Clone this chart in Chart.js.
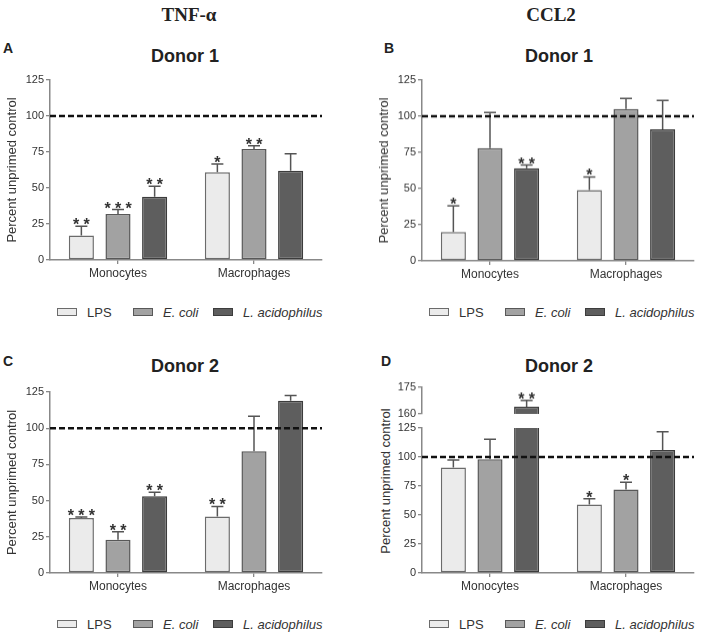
<!DOCTYPE html>
<html>
<head>
<meta charset="utf-8">
<script src="https://cdn.jsdelivr.net/npm/chart.js@4.4.1/dist/chart.umd.min.js"></script>
<style>
  body { margin: 0; background: #fff; font-family: "Liberation Sans", Arial, sans-serif; color: #222; }
  #fig { position: relative; width: 708px; height: 638px; overflow: hidden; }
  .abs { position: absolute; line-height: 1; white-space: nowrap; }
  .head { font: bold 19px "Liberation Serif", "Times New Roman", serif; transform: translateX(-50%); }
  .letter { font-weight: bold; font-size: 14px; }
  .donor { font-weight: bold; font-size: 18px; transform: translateX(-50%); }
  .ytitle { font-size: 13px; color: #333; transform: translate(-50%, -50%) rotate(-90deg); }
  .lg-box { position: absolute; width: 18px; height: 6px; border: 1px solid #555; }
  .lg-txt { font-size: 13px; color: #333; }
</style>
</head>
<body>
<div id="fig">
  <div class="abs head" style="left:189px;top:4px">TNF-α</div>
  <div class="abs head" style="left:551px;top:4px">CCL2</div>
  <div class="abs letter" style="left:3px;top:41px">A</div>
  <div class="abs letter" style="left:384px;top:41px">B</div>
  <div class="abs letter" style="left:3px;top:354px">C</div>
  <div class="abs letter" style="left:381px;top:354px">D</div>
  <div class="abs donor" style="left:185px;top:47px">Donor 1</div>
  <div class="abs donor" style="left:559px;top:47px">Donor 1</div>
  <div class="abs donor" style="left:185px;top:357px">Donor 2</div>
  <div class="abs donor" style="left:559px;top:357px">Donor 2</div>
  <div class="abs ytitle" style="left:385px;top:481px">Percent unprimed control</div>
</div>
<script>
// ---- data ----
const groups = ['Monocytes', 'Macrophages'];
const treatments = ['LPS', 'E. coli', 'L. acidophilus'];
const yTicks = [0, 25, 50, 75, 100, 125];
const yTicksBroken = [160, 175];   // upper segment of panel D
const controlLevel = 100;

// rows = treatments (LPS, E. coli, L. acidophilus), cols = groups
// A: TNF-α, donor 1
const tnfD1Mean = [[17, 61], [32, 77], [44, 62]];
const tnfD1Sd = [[6.4, 5.6], [3, 2.3], [7.3, 11.7]];
const tnfD1Sig = [['**', '*'], ['***', '**'], ['**', '']];
// B: CCL2, donor 1
const ccl2D1Mean = [[20, 49], [78, 105], [64, 91]];
const ccl2D1Sd = [[18, 9], [24.6, 7.3], [2.3, 19.9]];
const ccl2D1Sig = [['*', '*'], ['', ''], ['**', '']];
// C: TNF-α, donor 2
const tnfD2Mean = [[38, 39], [23, 84], [53, 119]];
const tnfD2Sd = [[0.6, 7], [5.5, 24.2], [2.7, 3.5]];
const tnfD2Sig = [['***', '**'], ['**', ''], ['**', '']];
// D: CCL2, donor 2
const ccl2D2Mean = [[91, 59], [98, 72], [164, 106]];
const ccl2D2Sd = [[6.4, 5.1], [17.2, 6.2], [3.7, 15.8]];
const ccl2D2Sig = [['', '*'], ['', '*'], ['**', '']];

// ---- styles ----
const FILL = ['#ebebeb', '#a2a2a2', '#5e5e5e'];
const EDGE = ['#6b6b6b', '#585858', '#3c3c3c'];
const ITALIC = [false, true, true];
const AXIS = '#888';

Chart.defaults.font.family = '"Liberation Sans", Arial, sans-serif';
const fig = document.getElementById('fig');

// error bars (upper SD only), significance stars, dashed 100% line
const extras = {
  id: 'extras',
  afterDatasetsDraw(chart, args, opts) {
    const { ctx, chartArea: a, scales: { y } } = chart;
    ctx.save();
    chart.data.datasets.forEach((ds, i) => {
      chart.getDatasetMeta(i).data.forEach((bar, j) => {
        const v = ds.data[j];
        if (v == null || v + ds.sd[j] > y.max) return;
        const yb = y.getPixelForValue(v), ys = y.getPixelForValue(v + ds.sd[j]);
        ctx.strokeStyle = '#555';
        ctx.lineWidth = 1.5;
        ctx.beginPath();
        ctx.moveTo(bar.x, yb); ctx.lineTo(bar.x, ys);
        ctx.moveTo(bar.x - 6, ys); ctx.lineTo(bar.x + 6, ys);
        ctx.stroke();
        const n = ds.sig[j].length;
        ctx.fillStyle = '#333';
        ctx.font = 'bold 16px "Liberation Sans", Arial, sans-serif';
        ctx.textAlign = 'center';
        ctx.textBaseline = 'alphabetic';
        for (let k = 0; k < n; k++) ctx.fillText('*', bar.x + (k - (n - 1) / 2) * 10.5, ys + 4);
      });
    });
    if (opts.ref > y.min && opts.ref < y.max) {
      const yr = y.getPixelForValue(opts.ref);
      ctx.setLineDash([6, 3]);
      ctx.lineWidth = 2.5;
      ctx.strokeStyle = '#111';
      ctx.beginPath();
      ctx.moveTo(a.left, yr); ctx.lineTo(a.right, yr);
      ctx.stroke();
    }
    ctx.restore();
  }
};

function panelChart({ axisX, right, top, bottom, mean, sd, sig, ticks, xAxis = true, yTitle = true }) {
  const left = axisX - 50, ctop = top - 14;
  const w = right + 6 - left, h = bottom + (xAxis ? 30 : 4) - ctop;
  const cv = document.createElement('canvas');
  cv.width = w; cv.height = h;
  cv.style.cssText = `position:absolute;left:${left}px;top:${ctop}px;width:${w}px;height:${h}px`;
  fig.appendChild(cv);
  const lo = ticks[0], hi = ticks[ticks.length - 1];

  return new Chart(cv, {
    type: 'bar',
    data: {
      labels: groups,
      datasets: treatments.map((name, t) => ({
        label: name,
        data: mean[t].map(v => (v > lo ? v : null)),
        sd: sd[t],
        sig: sig[t],
        backgroundColor: FILL[t],
        borderColor: EDGE[t],
        borderWidth: 1.5,
        borderSkipped: false,
        categoryPercentage: 0.808,
        barPercentage: 0.685,
        clip: 0
      }))
    },
    options: {
      responsive: false,
      animation: false,
      layout: { padding: { left: 0, top: 14, right: 6, bottom: xAxis ? 0 : 4 } },
      plugins: {
        legend: { display: false },
        tooltip: { enabled: false },
        extras: { ref: controlLevel }
      },
      scales: {
        x: {
          display: xAxis,
          grid: { drawOnChartArea: false, offset: false, tickLength: 4, color: AXIS, lineWidth: 1.3 },
          border: { color: AXIS, width: 1.5 },
          ticks: { color: '#333', font: { size: 12 }, padding: 2, maxRotation: 0 },
          afterFit: s => { s.height = xAxis ? 30 : 0; s.paddingLeft = 0; s.paddingRight = 0; }
        },
        y: {
          min: lo,
          max: hi,
          afterBuildTicks: s => { s.ticks = ticks.map(value => ({ value })); },
          grid: { drawOnChartArea: false, tickLength: 4, color: AXIS, lineWidth: 1.3 },
          border: { color: AXIS, width: 1.5 },
          ticks: { color: '#333', font: { size: 11 }, padding: 2, autoSkip: false },
          title: {
            display: yTitle, text: 'Percent unprimed control', color: '#333',
            font: { size: 13 }, padding: { top: 5, bottom: 0 }
          },
          afterFit: s => { s.width = 50; s.paddingTop = 0; s.paddingBottom = 0; }
        }
      }
    },
    plugins: [extras]
  });
}

function legend(axisX, cy) {
  [7, 83, 163].forEach((dx, t) => {
    const box = document.createElement('div');
    box.className = 'lg-box';
    box.style.cssText += `left:${axisX + dx}px;top:${cy - 4}px;background:${FILL[t]};border-color:${EDGE[t]}`;
    fig.appendChild(box);
    const txt = document.createElement('div');
    txt.className = 'abs lg-txt';
    txt.style.cssText += `left:${axisX + dx + 30}px;top:${cy - 6.5}px;font-style:${ITALIC[t] ? 'italic' : 'normal'}`;
    txt.textContent = treatments[t];
    fig.appendChild(txt);
  });
}

// A
panelChart({ axisX: 50, right: 322, top: 80, bottom: 260, mean: tnfD1Mean, sd: tnfD1Sd, sig: tnfD1Sig, ticks: yTicks });
// B
panelChart({ axisX: 422, right: 694, top: 80, bottom: 260.5, mean: ccl2D1Mean, sd: ccl2D1Sd, sig: ccl2D1Sig, ticks: yTicks });
// C
panelChart({ axisX: 50, right: 322, top: 391.5, bottom: 572.5, mean: tnfD2Mean, sd: tnfD2Sd, sig: tnfD2Sig, ticks: yTicks });
// D: broken axis -> lower segment 0–125 and upper segment 160–175
panelChart({ axisX: 422, right: 694, top: 427.5, bottom: 572.5, mean: ccl2D2Mean, sd: ccl2D2Sd, sig: ccl2D2Sig, ticks: yTicks, yTitle: false });
panelChart({ axisX: 422, right: 694, top: 387, bottom: 413.5, mean: ccl2D2Mean, sd: ccl2D2Sd, sig: ccl2D2Sig, ticks: yTicksBroken, xAxis: false, yTitle: false });

legend(50, 312);
legend(422, 312);
legend(50, 624);
legend(422, 624);
</script>
</body>
</html>
